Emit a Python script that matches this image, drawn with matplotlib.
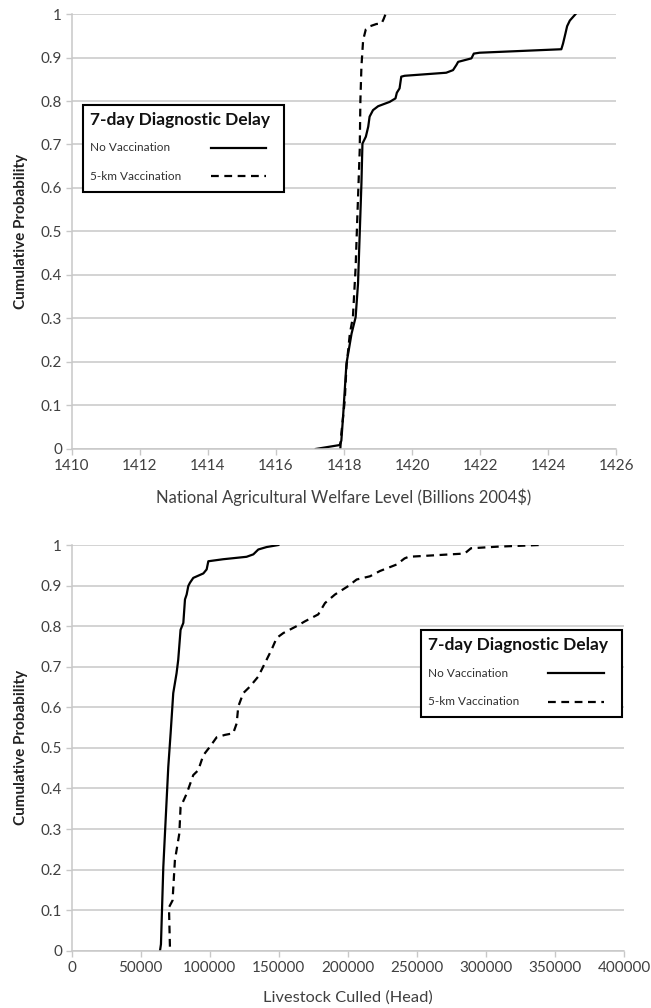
import numpy as np
import matplotlib.pyplot as plt
from matplotlib.lines import Line2D
from matplotlib.text import Text
from matplotlib.offsetbox import TextArea, DrawingArea, VPacker, AnchoredOffsetbox

# --- top panel: national agricultural welfare (billions 2004$)
welfare_novacc = [1417.17, 1417.87, 1417.92, 1417.97, 1418.07, 1418.22, 1418.34, 1418.41,
                  1418.46, 1418.51, 1418.54, 1418.64, 1418.71, 1418.75, 1418.85, 1419.0,
                  1419.34, 1419.51, 1419.55, 1419.63, 1419.68, 1419.78, 1421.0, 1421.2,
                  1421.3, 1421.35, 1421.74, 1421.81, 1421.98, 1424.38, 1424.43, 1424.5,
                  1424.55, 1424.63, 1424.8]
prob_welfare_novacc = [0.0, 0.009, 0.019, 0.073, 0.196, 0.265, 0.303, 0.38,
                       0.495, 0.61, 0.702, 0.718, 0.741, 0.764, 0.779, 0.788,
                       0.798, 0.806, 0.819, 0.829, 0.856, 0.858, 0.865, 0.871,
                       0.883, 0.89, 0.898, 0.909, 0.911, 0.919, 0.932, 0.955,
                       0.972, 0.985, 1.0]
welfare_vacc = [1417.89, 1417.92, 1418.02, 1418.07, 1418.17, 1418.26, 1418.34, 1418.39,
                1418.46, 1418.48, 1418.51, 1418.56, 1418.64, 1418.73, 1418.95, 1419.1,
                1419.16, 1419.22]
prob_welfare_vacc = [0.0, 0.035, 0.111, 0.188, 0.265, 0.303, 0.418, 0.533,
                     0.687, 0.802, 0.879, 0.94, 0.965, 0.971, 0.977, 0.978,
                     0.988, 1.0]

# --- bottom panel: livestock culled (head)
culled_novacc = [64000, 64700, 66400, 67600, 68800, 70000, 71700, 73600, 76000, 77200,
                 78900, 80900, 82100, 83300, 84500, 85700, 88100, 95400, 97800, 99000,
                 109800, 126700, 131600, 135200, 141200, 149700]
prob_culled_novacc = [0.0, 0.016, 0.206, 0.289, 0.371, 0.453, 0.536, 0.635, 0.684, 0.717,
                      0.791, 0.808, 0.866, 0.878, 0.899, 0.907, 0.919, 0.93, 0.94, 0.96,
                      0.965, 0.971, 0.977, 0.989, 0.995, 1.0]
culled_vacc = [71200, 70500, 73100, 74800, 78000, 78900, 83300, 88100, 91700, 95400,
               100200, 105000, 111000, 117000, 119500, 120700, 124300, 129100, 135200,
               140000, 144800, 148500, 153300, 162900, 169000, 178600, 183500, 190700,
               200400, 206400, 216100, 223300, 235400, 241100, 244000, 284600, 289200,
               308700, 338700]
prob_culled_vacc = [0.01, 0.107, 0.124, 0.223, 0.289, 0.354, 0.387, 0.433, 0.445, 0.482,
                    0.503, 0.526, 0.532, 0.536, 0.56, 0.602, 0.635, 0.651, 0.676,
                    0.709, 0.742, 0.771, 0.783, 0.8, 0.812, 0.829, 0.857, 0.878,
                    0.899, 0.915, 0.923, 0.936, 0.952, 0.967, 0.971, 0.979, 0.992,
                    0.996, 1.0]

legend_title = "7-day Diagnostic Delay"
series_names = ["No Vaccination", "5-km Vaccination"]

plt.rcParams['font.family'] = ['Lato', 'DejaVu Sans']
GRID = '#c8c8c8'
TXT = '#404040'
DASH = (0, (3.5, 2.5))

fig = plt.figure(figsize=(6.51, 10.08), dpi=100)
ax1 = fig.add_axes([0.110, 0.5546, 0.837, 0.4315])
ax2 = fig.add_axes([0.110, 0.0568, 0.8485, 0.4025])


def style(ax, xticks, xlabel, xlsize):
    ax.set_ylim(0, 1)
    ax.set_yticks(np.arange(0, 1.01, 0.1))
    ax.set_yticklabels(['0', '0.1', '0.2', '0.3', '0.4', '0.5', '0.6', '0.7', '0.8', '0.9', '1'])
    ax.set_xticks(xticks)
    ax.set_xlim(xticks[0], xticks[-1])
    ax.grid(axis='y', color=GRID, lw=1.1)
    ax.set_axisbelow(True)
    for s in ['top', 'right']:
        ax.spines[s].set_visible(False)
    for s in ['left', 'bottom']:
        ax.spines[s].set_color(GRID)
        ax.spines[s].set_linewidth(1.1)
    ax.tick_params(colors=GRID, labelcolor=TXT, labelsize=11, length=4, width=1)
    ax.tick_params(axis='y', pad=3)
    ax.set_xlabel(xlabel, fontsize=xlsize, color=TXT, labelpad=11)
    ax.set_ylabel("Cumulative Probability", fontsize=11, fontweight='bold', color='#222222', labelpad=9)


def add_legend(ax, anchor):
    # legend box: title, then rows with label on the left and line sample on the right
    rows = [TextArea(legend_title, textprops=dict(fontsize=12.5, fontweight='bold', color='#111111'))]
    styles = ['-', DASH]
    for name, ls in zip(series_names, styles):
        da = DrawingArea(135, 12, 0, 0)
        da.add_artist(Text(0, 6, name, fontsize=8.5, color='#303030', va='center', ha='left',
                           family=['Lato', 'DejaVu Sans']))
        da.add_artist(Line2D([87, 127], [6, 6], color='black', lw=1.6, ls=ls))
        rows.append(da)
    box = VPacker(children=rows, align='left', pad=5, sep=8.5)
    anch = AnchoredOffsetbox(loc='upper left', child=box, pad=0, borderpad=0, frameon=True,
                             bbox_to_anchor=anchor, bbox_transform=ax.transAxes)
    anch.patch.set_edgecolor('black')
    anch.patch.set_linewidth(1.5)
    ax.add_artist(anch)


ax1.plot(welfare_novacc, prob_welfare_novacc, color='black', lw=1.6)
ax1.plot(welfare_vacc, prob_welfare_vacc, color='black', lw=1.6, ls=DASH)
style(ax1, np.arange(1410, 1427, 2), "National Agricultural Welfare Level (Billions 2004$)", 12)
add_legend(ax1, (0.021, 0.791))

ax2.plot(culled_novacc, prob_culled_novacc, color='black', lw=1.6)
ax2.plot(culled_vacc, prob_culled_vacc, color='black', lw=1.6, ls=DASH)
style(ax2, np.arange(0, 400001, 50000), "Livestock Culled (Head)", 11.8)
add_legend(ax2, (0.632, 0.79))

fig.savefig('out.png', dpi=100)
